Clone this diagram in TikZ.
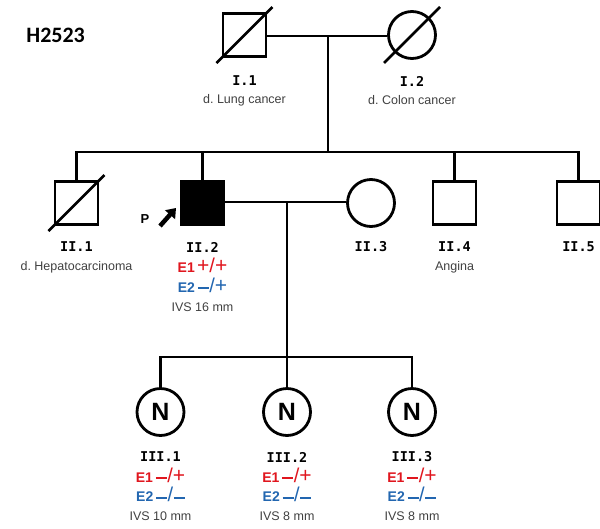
\documentclass[tikz,border=0pt]{standalone}
\usepackage{fontspec}
\setmainfont{Liberation Sans}
\newfontfamily\idfont{DejaVu Sans Mono}
\newfontfamily\titlefont{Carlito}
\usetikzlibrary{arrows.meta}
\frenchspacing
\definecolor{txtgray}{HTML}{404040}
\definecolor{ered}{HTML}{E0161E}
\definecolor{eblue}{HTML}{2266B0}
\newcommand{\gplus}{{\mdseries\fontsize{21}{21}\selectfont\raisebox{-0.5pt}{+}}}
\newcommand{\gsl}{{\mdseries\fontsize{20}{20}\selectfont /}}
\newcommand{\gmin}{\hspace{0.5pt}\rule[2.8pt]{11pt}{1.9pt}\hspace{0.5pt}}
\begin{document}
\begin{tikzpicture}[x=1pt,y=-1pt,
  line width=2.8pt,
  male/.style={draw,rectangle,minimum size=43pt,inner sep=0pt,line width=2.8pt},
  female/.style={draw,circle,minimum size=47pt,inner sep=0pt,line width=2.8pt},
  idlab/.style={inner sep=0pt,font=\idfont\bfseries\fontsize{13.5}{14}\selectfont},
  info/.style={inner sep=0pt,text=txtgray,font=\fontsize{12.5}{13}\selectfont},
  geno/.style={inner sep=0pt,anchor=base,font=\bfseries\fontsize{14}{14}\selectfont},
  dead/.style={line width=2.8pt}]
\useasboundingbox (0,0) rectangle (600,528);
\node[inner sep=0pt,anchor=west,font=\titlefont\bfseries\fontsize{22}{22}\selectfont] (title) at (25,35) {H2523};
% generation I
\node[male] (i1) at (244.5,35) {};
\node[female] (i2) at (412,35) {};
\draw[dead] ([shift={(-28,28)}]i1.center) -- ([shift={(28,-28)}]i1.center);
\draw[dead] ([shift={(-28,28)}]i2.center) -- ([shift={(28,-28)}]i2.center);
\node[idlab] (i1id) at (244.5,81) {I.1};
\node[info] (i1d) at (244.5,100) {d. Lung cancer};
\node[idlab] (i2id) at (412,81) {I.2};
\node[info] (i2d) at (412,100) {d. Colon cancer};
\coordinate (m1) at (328,36);
\coordinate (sib2) at (328,152);
\draw (i1.east |- m1) -- (i2.west |- m1);
\draw (m1) -- (sib2);
% generation II
\node[male] (ii1) at (76.5,203) {};
\node[male,fill=black] (ii2) at (202.5,203) {};
\node[female] (ii3) at (371,203) {};
\node[male] (ii4) at (454.5,203) {};
\node[male] (ii5) at (578.5,203) {};
\draw[dead] ([shift={(-28,28)}]ii1.center) -- ([shift={(28,-28)}]ii1.center);
\draw (ii1.north) -- (ii1.north |- sib2) -- (ii5.north |- sib2) -- (ii5.north);
\draw (ii2.north) -- (ii2.north |- sib2);
\draw (ii4.north) -- (ii4.north |- sib2);
\node[idlab] (ii1id) at (76.5,247) {II.1};
\node[info] (ii1d) at (76.5,267) {d. Hepatocarcinoma};
\node[idlab] (ii2id) at (202.5,247) {II.2};
\node[geno,text=ered] (ii2e1) at (202.5,272) {E1\,\gplus\gsl\gplus};
\node[geno,text=eblue] (ii2e2) at (202.5,292) {E2\,\gmin\gsl\gplus};
\node[info] (ii2v) at (202.5,307) {IVS 16 mm};
\node[idlab] (ii3id) at (371,247) {II.3};
\node[idlab] (ii4id) at (454.5,247) {II.4};
\node[info] (ii4d) at (454.5,267) {Angina};
\node[idlab] (ii5id) at (578.5,247) {II.5};
% proband
\node[inner sep=0pt,font=\bfseries\fontsize{13}{13}\selectfont] (plab) at (145,219) {P};
\coordinate (parr) at (176,208);
\draw[line width=4.5pt,-{Triangle[width=13pt,length=9pt]}] (160,226) -- (parr);
% couple II.2 - II.3
\coordinate (m2) at (287,202);
\coordinate (sib3) at (287,357);
\draw (ii2.east |- m2) -- (ii3.west |- m2);
\draw (m2) -- (sib3);
% generation III
\node[female,font=\bfseries\fontsize{25}{25}\selectfont] (iii1) at (160.5,412) {N};
\node[female,font=\bfseries\fontsize{25}{25}\selectfont] (iii2) at (287,412) {N};
\node[female,font=\bfseries\fontsize{25}{25}\selectfont] (iii3) at (412,412) {N};
\draw (iii1.north) -- (iii1.north |- sib3) -- (iii3.north |- sib3) -- (iii3.north);
\draw (iii2.north) -- (sib3);
\foreach \n/\x/\v in {1/160.5/10, 2/287/8, 3/412/8}{
  \node[idlab] (iii\n id) at (\x,457) {III.\n};
  \node[geno,text=ered] (iii\n e1) at (\x,482) {E1\,\gmin\gsl\gplus};
  \node[geno,text=eblue] (iii\n e2) at (\x,501.5) {E2\,\gmin\gsl\gmin};
  \node[info] (iii\n v) at (\x,516) {IVS \v\ mm};
}
\end{tikzpicture}
\end{document}
